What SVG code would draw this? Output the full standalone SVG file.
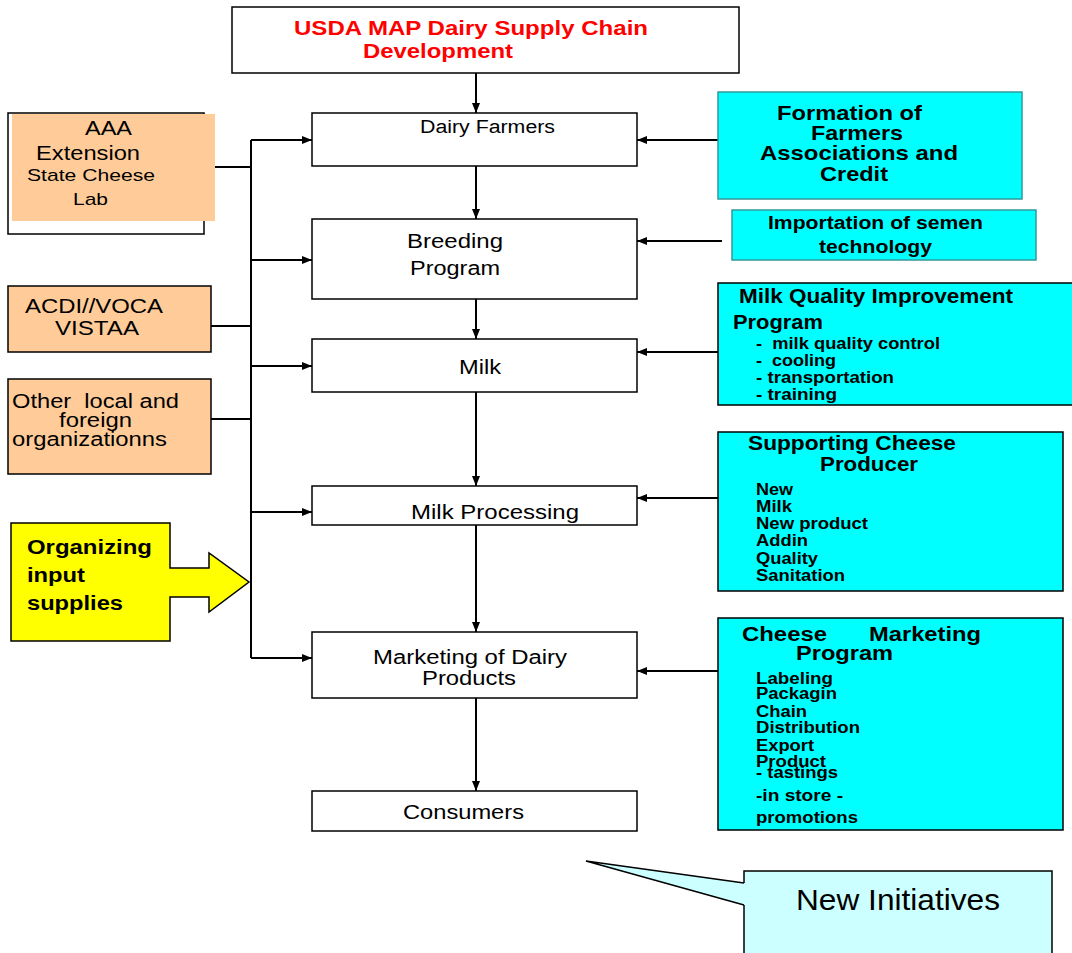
<svg xmlns="http://www.w3.org/2000/svg" width="1072" height="953" viewBox="0 0 1072 953">
<style>
text{font-family:"Liberation Sans",Arial,sans-serif;fill:#000}
.b{font-weight:bold}
.red{fill:#FF0000}
.box{fill:#fff;stroke:#000;stroke-width:1.5}
.org{fill:#FFCC99;stroke:#000;stroke-width:1.5}
.cy{fill:#00FFFF;stroke:#000;stroke-width:1.5}
.cyt{fill:#00FFFF;stroke:#339999;stroke-width:1.5}
.ln{stroke:#000;stroke-width:2;fill:none}
.ar{stroke:#000;stroke-width:2;fill:none;marker-end:url(#ah)}
</style>
<defs>
<marker id="ah" viewBox="0 0 10 10" refX="10" refY="5" markerWidth="5" markerHeight="4" orient="auto" markerUnits="strokeWidth" preserveAspectRatio="none">
<path d="M0,0 L10,5 L0,10 z" fill="#000"/>
</marker>
</defs>

<g id="connectors">
<line class="ar" x1="476" y1="73" x2="476" y2="113"/>
<line class="ar" x1="476" y1="166" x2="476" y2="219"/>
<line class="ar" x1="476" y1="299" x2="476" y2="339"/>
<line class="ar" x1="476" y1="392" x2="476" y2="486"/>
<line class="ar" x1="476" y1="525" x2="476" y2="632"/>
<line class="ar" x1="476" y1="698" x2="476" y2="791"/>
<line class="ln" x1="251" y1="140" x2="251" y2="658"/>
<line class="ar" x1="251" y1="140" x2="312" y2="140"/>
<line class="ar" x1="251" y1="260" x2="312" y2="260"/>
<line class="ar" x1="251" y1="366" x2="312" y2="366"/>
<line class="ar" x1="251" y1="512" x2="312" y2="512"/>
<line class="ar" x1="251" y1="658" x2="312" y2="658"/>
<line class="ln" x1="215" y1="167" x2="251" y2="167"/>
<line class="ln" x1="211" y1="326" x2="251" y2="326"/>
<line class="ln" x1="211" y1="419" x2="251" y2="419"/>
<line class="ar" x1="718" y1="140" x2="637" y2="140"/>
<line class="ar" x1="722" y1="241" x2="637" y2="241"/>
<line class="ar" x1="718" y1="352" x2="637" y2="352"/>
<line class="ar" x1="718" y1="498" x2="637" y2="498"/>
<line class="ar" x1="718" y1="671" x2="637" y2="671"/>
</g>

<g id="title">
<rect class="box" x="232" y="7" width="507" height="66"/>
<text class="b red" x="294" y="35" font-size="21" textLength="354" lengthAdjust="spacingAndGlyphs">USDA MAP Dairy Supply Chain</text>
<text class="b red" x="363" y="58" font-size="21" textLength="150" lengthAdjust="spacingAndGlyphs">Development</text>
</g>

<g id="dairy-farmers">
<rect class="box" x="312" y="113" width="325" height="53"/>
<text x="420" y="133" font-size="18" textLength="135" lengthAdjust="spacingAndGlyphs">Dairy Farmers</text>
</g>

<g id="breeding">
<rect class="box" x="312" y="219" width="325" height="80"/>
<text x="407" y="248" font-size="20" textLength="96" lengthAdjust="spacingAndGlyphs">Breeding</text>
<text x="410" y="275" font-size="20" textLength="90" lengthAdjust="spacingAndGlyphs">Program</text>
</g>

<g id="milk">
<rect class="box" x="312" y="339" width="325" height="53"/>
<text x="459" y="374" font-size="20" textLength="42" lengthAdjust="spacingAndGlyphs">Milk</text>
</g>

<g id="milk-processing">
<rect class="box" x="312" y="486" width="325" height="39"/>
<text x="411" y="519" font-size="20" textLength="168" lengthAdjust="spacingAndGlyphs">Milk Processing</text>
</g>

<g id="marketing">
<rect class="box" x="312" y="632" width="325" height="66"/>
<text x="373" y="664" font-size="20" textLength="194" lengthAdjust="spacingAndGlyphs">Marketing of Dairy</text>
<text x="422" y="685" font-size="20" textLength="94" lengthAdjust="spacingAndGlyphs">Products</text>
</g>

<g id="consumers">
<rect class="box" x="312" y="791" width="325" height="40"/>
<text x="403" y="819" font-size="20" textLength="121" lengthAdjust="spacingAndGlyphs">Consumers</text>
</g>

<g id="aaa">
<rect class="box" x="8" y="113" width="196" height="121"/>
<rect x="12" y="114" width="203" height="107" fill="#FFCC99"/>
<text x="85" y="135" font-size="20" textLength="47" lengthAdjust="spacingAndGlyphs">AAA</text>
<text x="36" y="160" font-size="20" textLength="104" lengthAdjust="spacingAndGlyphs">Extension</text>
<text x="27" y="181" font-size="17" textLength="128" lengthAdjust="spacingAndGlyphs">State Cheese</text>
<text x="73" y="205" font-size="17" textLength="35" lengthAdjust="spacingAndGlyphs">Lab</text>
</g>

<g id="acdi">
<rect class="org" x="8" y="286" width="203" height="66"/>
<text x="25" y="313" font-size="20" textLength="138" lengthAdjust="spacingAndGlyphs">ACDI//VOCA</text>
<text x="55" y="335" font-size="20" textLength="84" lengthAdjust="spacingAndGlyphs">VISTAA</text>
</g>

<g id="other">
<rect class="org" x="8" y="379" width="203" height="95"/>
<text x="12" y="408" font-size="20" xml:space="preserve" textLength="167" lengthAdjust="spacingAndGlyphs">Other  local and</text>
<text x="59" y="427" font-size="20" textLength="73" lengthAdjust="spacingAndGlyphs">foreign</text>
<text x="12" y="446" font-size="20" textLength="155" lengthAdjust="spacingAndGlyphs">organizationns</text>
</g>

<g id="organizing">
<polygon points="11,523 170,523 170,568 209,568 209,553 249,582 209,612 209,597 170,597 170,641 11,641" fill="#FFFF00" stroke="#000" stroke-width="1.5"/>
<text class="b" x="27" y="554" font-size="20" textLength="125" lengthAdjust="spacingAndGlyphs">Organizing</text>
<text class="b" x="27" y="582" font-size="20" textLength="58" lengthAdjust="spacingAndGlyphs">input</text>
<text class="b" x="27" y="610" font-size="20" textLength="96" lengthAdjust="spacingAndGlyphs">supplies</text>
</g>

<g id="formation">
<rect class="cyt" x="718" y="92" width="304" height="107"/>
<text class="b" x="777" y="120" font-size="21" textLength="145" lengthAdjust="spacingAndGlyphs">Formation of</text>
<text class="b" x="811" y="140" font-size="21" textLength="92" lengthAdjust="spacingAndGlyphs">Farmers</text>
<text class="b" x="760" y="160" font-size="21" textLength="198" lengthAdjust="spacingAndGlyphs">Associations and</text>
<text class="b" x="820" y="181" font-size="21" textLength="68" lengthAdjust="spacingAndGlyphs">Credit</text>
</g>

<g id="importation">
<rect class="cyt" x="732" y="210" width="304" height="50"/>
<text class="b" x="768" y="229" font-size="18" textLength="215" lengthAdjust="spacingAndGlyphs">Importation of semen</text>
<text class="b" x="819" y="253" font-size="18" textLength="113" lengthAdjust="spacingAndGlyphs">technology</text>
</g>

<g id="milk-quality">
<rect class="cy" x="718" y="283" width="360" height="122"/>
<text class="b" x="739" y="303" font-size="20" textLength="274" lengthAdjust="spacingAndGlyphs">Milk Quality Improvement</text>
<text class="b" x="733" y="329" font-size="20" textLength="90" lengthAdjust="spacingAndGlyphs">Program</text>
<text class="b" x="756" y="349" font-size="16" xml:space="preserve" textLength="184" lengthAdjust="spacingAndGlyphs">-  milk quality control</text>
<text class="b" x="756" y="366" font-size="16" xml:space="preserve" textLength="80" lengthAdjust="spacingAndGlyphs">-  cooling</text>
<text class="b" x="756" y="383" font-size="16" textLength="138" lengthAdjust="spacingAndGlyphs">- transportation</text>
<text class="b" x="756" y="400" font-size="16" textLength="81" lengthAdjust="spacingAndGlyphs">- training</text>
</g>

<g id="supporting">
<rect class="cy" x="718" y="432" width="345" height="159"/>
<text class="b" x="748" y="450" font-size="20" textLength="208" lengthAdjust="spacingAndGlyphs">Supporting Cheese</text>
<text class="b" x="820" y="471" font-size="20" textLength="98" lengthAdjust="spacingAndGlyphs">Producer</text>
<text class="b" x="756" y="495" font-size="16" textLength="37" lengthAdjust="spacingAndGlyphs">New</text>
<text class="b" x="756" y="512" font-size="16" textLength="36" lengthAdjust="spacingAndGlyphs">Milk</text>
<text class="b" x="756" y="529" font-size="16" textLength="112" lengthAdjust="spacingAndGlyphs">New product</text>
<text class="b" x="756" y="546" font-size="16" textLength="52" lengthAdjust="spacingAndGlyphs">Addin</text>
<text class="b" x="756" y="564" font-size="16" textLength="62" lengthAdjust="spacingAndGlyphs">Quality</text>
<text class="b" x="756" y="581" font-size="16" textLength="89" lengthAdjust="spacingAndGlyphs">Sanitation</text>
</g>

<g id="cheese-marketing">
<rect class="cy" x="718" y="618" width="345" height="212"/>
<text class="b" x="742" y="641" font-size="20" textLength="85" lengthAdjust="spacingAndGlyphs">Cheese</text>
<text class="b" x="869" y="641" font-size="20" textLength="112" lengthAdjust="spacingAndGlyphs">Marketing</text>
<text class="b" x="796" y="660" font-size="20" textLength="97" lengthAdjust="spacingAndGlyphs">Program</text>
<text class="b" x="756" y="684" font-size="16" textLength="77" lengthAdjust="spacingAndGlyphs">Labeling</text>
<text class="b" x="756" y="699" font-size="16" textLength="81" lengthAdjust="spacingAndGlyphs">Packagin</text>
<text class="b" x="756" y="717" font-size="16" textLength="51" lengthAdjust="spacingAndGlyphs">Chain</text>
<text class="b" x="756" y="733" font-size="16" textLength="104" lengthAdjust="spacingAndGlyphs">Distribution</text>
<text class="b" x="756" y="751" font-size="16" textLength="58" lengthAdjust="spacingAndGlyphs">Export</text>
<text class="b" x="756" y="767" font-size="16" textLength="70" lengthAdjust="spacingAndGlyphs">Product</text>
<text class="b" x="756" y="778" font-size="16" textLength="82" lengthAdjust="spacingAndGlyphs">- tastings</text>
<text class="b" x="756" y="801" font-size="16" textLength="87" lengthAdjust="spacingAndGlyphs">-in store -</text>
<text class="b" x="756" y="823" font-size="16" textLength="102" lengthAdjust="spacingAndGlyphs">promotions</text>
</g>

<g id="new-initiatives">
<path d="M744,883 L586,861 L744,905 L744,960 L1052,960 L1052,871 L744,871 Z" fill="#CCFFFF" stroke="none"/>
<path d="M744,883 L586,861 L744,905" fill="none" stroke="#000" stroke-width="1.5"/>
<path d="M744,883 L744,871 L1052,871 L1052,960 M744,905 L744,960" fill="none" stroke="#000" stroke-width="1.5"/>
<text x="796" y="910" font-size="30" textLength="204" lengthAdjust="spacingAndGlyphs">New Initiatives</text>
</g>
</svg>
